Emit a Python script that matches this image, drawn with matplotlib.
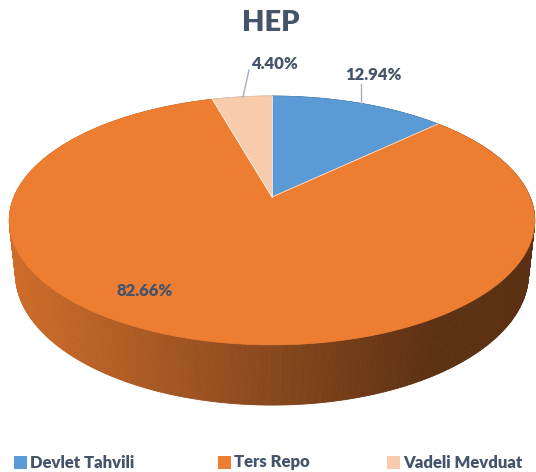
import numpy as np
import matplotlib
matplotlib.use('Agg')
import matplotlib.pyplot as plt
from matplotlib.patches import Polygon, Rectangle
from matplotlib.colors import to_rgb

# ---- data ----
title = 'HEP'
categories = ['Devlet Tahvili', 'Ters Repo', 'Vadeli Mevduat']
values = [12.94, 82.66, 4.40]
value_labels = ['12.94%', '82.66%', '4.40%']
colors = ['#5B9BD5', '#ED7D31', '#F8CBAD']

# ---- layout / style ----
W, H = 536, 472
TEXT_COLOR = '#44546A'
FONT = ['Lato', 'DejaVu Sans']
plt.rcParams['font.family'] = FONT

fig = plt.figure(figsize=(W / 100, H / 100), dpi=100)
ax = fig.add_axes([0, 0, 1, 1])
ax.set_xlim(0, W)
ax.set_ylim(H, 0)
ax.axis('off')

# perspective camera for a 3D pie
U0, V0 = 272.0, 197.0
F = 1210.0
D0 = 4.69
S = 0.465
C = np.sqrt(1 - S * S)
DEPTH = 0.235


def proj(x, y, z):
    vert = y * S + z * C
    depth = D0 + y * C - z * S
    return U0 + F * x / depth, V0 - F * vert / depth, depth


total = sum(values)
fracs = [v / total for v in values]
bounds = np.concatenate([[0], np.cumsum(fracs)]) * 2 * np.pi  # clockwise from back

# walls
quads = []
for i, col in enumerate(colors):
    a0, a1 = bounds[i], bounds[i + 1]
    n = max(4, int(np.ceil((a1 - a0) / np.radians(0.5))))
    th = np.linspace(a0, a1, n + 1)
    base = np.array(to_rgb(col))
    for k in range(n):
        t0, t1 = th[k], th[k + 1]
        pts = []
        for t, z in [(t0, 0), (t1, 0), (t1, -DEPTH), (t0, -DEPTH)]:
            u, v, d = proj(np.sin(t), np.cos(t), z)
            pts.append((u, v))
        um, vm, dm = proj(np.sin((t0 + t1) / 2), np.cos((t0 + t1) / 2), -DEPTH / 2)
        fac = 0.88 - (um - 8) / (430 - 8) * 0.49
        fac = np.clip(fac, 0.39, 1.0)
        quads.append((dm, pts, base * fac))
quads.sort(key=lambda q: -q[0])
for dm, pts, c in quads:
    ax.add_patch(Polygon(pts, closed=True, facecolor=c, edgecolor=c, lw=0.6))

# top face
for i, col in enumerate(colors):
    a0, a1 = bounds[i], bounds[i + 1]
    th = np.linspace(a0, a1, 200)
    pts = [proj(0, 0, 0)[:2]] + [proj(np.sin(t), np.cos(t), 0)[:2] for t in th]
    ax.add_patch(Polygon(pts, closed=True, facecolor=col, edgecolor=col, lw=0.5))
# slice borders on top face
cu, cv, _ = proj(0, 0, 0)
for b in bounds[:-1]:
    eu, ev, _ = proj(np.sin(b), np.cos(b), 0)
    ax.plot([cu, eu], [cv, ev], color='white', lw=0.6, alpha=0.8)

# data labels
lab_pos = [(373, 75), (145, 291), (275, 64)]
leaders = [((361, 84), (361, 103)), None, ((249, 70), (243, 97))]
for lab, (x, y), ld in zip(value_labels, lab_pos, leaders):
    ax.text(x, y, lab, ha='center', va='center', fontsize=12, fontweight='heavy',
            color=TEXT_COLOR)
    if ld is not None:
        ax.plot([ld[0][0], ld[1][0]], [ld[0][1], ld[1][1]], color='#A5B0C0', lw=1)

# title
ax.text(271, 23, title, ha='center', va='center', fontsize=21, fontweight='heavy',
        color=TEXT_COLOR)

# legend
leg_x = [14, 218, 387]
for cat, col, x in zip(categories, colors, leg_x):
    ax.add_patch(Rectangle((x, 456), 13, 13, facecolor=col, edgecolor='none'))
    ax.text(x + 16, 462.5, cat, ha='left', va='center', fontsize=12, fontweight='heavy',
            color=TEXT_COLOR)

fig.savefig('out.png', dpi=100, facecolor='white')
